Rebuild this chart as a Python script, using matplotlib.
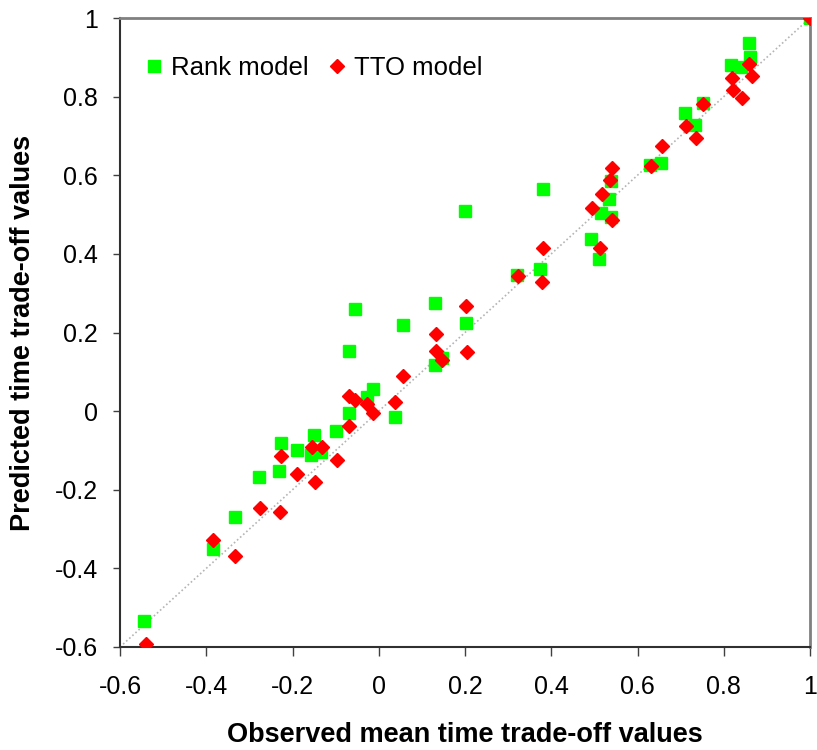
import numpy as np
import matplotlib
matplotlib.use('Agg')
import matplotlib.pyplot as plt

# observed vs predicted, rank model (green squares)
rank_obs = [1.0, 0.858, 0.862, 0.816, 0.839, 0.751, 0.709, 0.733, 0.654, 0.630,
            0.538, 0.533, 0.515, 0.538, 0.492, 0.510, 0.380, 0.375, 0.320, 0.199,
            0.202, 0.130, 0.130, 0.146, 0.056, -0.056, -0.070, -0.014, -0.028, -0.070,
            0.037, -0.098, -0.149, -0.227, -0.190, -0.158, -0.133, -0.232, -0.278, -0.334,
            -0.385, -0.544]
rank_pred = [1.0, 0.936, 0.902, 0.880, 0.876, 0.784, 0.758, 0.729, 0.630, 0.626,
             0.586, 0.539, 0.503, 0.494, 0.438, 0.388, 0.565, 0.361, 0.346, 0.509,
             0.224, 0.275, 0.117, 0.136, 0.219, 0.260, 0.153, 0.057, 0.037, -0.005,
             -0.016, -0.051, -0.061, -0.080, -0.099, -0.112, -0.103, -0.152, -0.168, -0.269,
             -0.351, -0.534]

# TTO model (red diamonds)
tto_obs = [1.0, 0.859, 0.865, 0.818, 0.822, 0.842, 0.753, 0.712, 0.735, 0.656,
           0.632, 0.541, 0.536, 0.517, 0.494, 0.541, 0.382, 0.513, 0.322, 0.378,
           0.202, 0.132, 0.204, 0.132, 0.146, 0.057, -0.068, -0.054, -0.027, -0.013,
           0.038, -0.068, -0.155, -0.132, -0.226, -0.096, -0.189, -0.147, -0.275, -0.229,
           -0.384, -0.333, -0.540]
tto_pred = [1.0, 0.884, 0.852, 0.848, 0.816, 0.796, 0.782, 0.725, 0.694, 0.674,
            0.623, 0.618, 0.587, 0.552, 0.516, 0.486, 0.415, 0.416, 0.344, 0.328,
            0.267, 0.195, 0.151, 0.153, 0.130, 0.090, 0.038, 0.028, 0.018, -0.004,
            0.023, -0.038, -0.092, -0.092, -0.114, -0.125, -0.160, -0.180, -0.246, -0.257,
            -0.328, -0.369, -0.592]

ticks = [-0.6, -0.4, -0.2, 0, 0.2, 0.4, 0.6, 0.8, 1]
tick_labels = ['-0.6', '-0.4', '-0.2', '0', '0.2', '0.4', '0.6', '0.8', '1']

plt.rcParams['font.family'] = ['Liberation Sans', 'DejaVu Sans']

fig = plt.figure(figsize=(8.17, 7.5), dpi=100)
ax = fig.add_axes([120 / 817, 1 - 647 / 750, 690 / 817, 629 / 750])

ax.plot([-0.6, 1], [-0.6, 1], color='#b4b4b4', linestyle=(0, (1, 1.5)),
        linewidth=1.2, zorder=1)
ax.plot(rank_obs, rank_pred, linestyle='none', marker='s', markersize=8.6,
        color='#00ff00', label='Rank model', zorder=2)
ax.plot(tto_obs, tto_pred, linestyle='none', marker='D', markersize=7.0,
        color='#ff0000', label='TTO model', zorder=3)

ax.set_xlim(-0.6, 1)
ax.set_ylim(-0.6, 1)
ax.set_xticks(ticks)
ax.set_xticklabels(tick_labels)
ax.set_yticks(ticks)
ax.set_yticklabels(tick_labels)
ax.tick_params(axis='x', direction='out', length=6.5, width=1, color='#404040',
               labelsize=18, pad=14)
ax.tick_params(axis='y', direction='out', length=5, width=1, color='#404040',
               labelsize=18, pad=11)

for side in ['left', 'bottom']:
    ax.spines[side].set_color('#303030')
    ax.spines[side].set_linewidth(1.5)
for side in ['top', 'right']:
    ax.spines[side].set_color('#808080')
    ax.spines[side].set_linewidth(2)

ax.set_xlabel('Observed mean time trade-off values', fontsize=19.5,
              fontweight='bold', labelpad=16)
ax.set_ylabel('Predicted time trade-off values', fontsize=19.5,
              fontweight='bold', labelpad=13)

ax.legend(loc='upper left', ncol=2, frameon=False, fontsize=18.5,
          handlelength=0.8, handletextpad=0.25, columnspacing=0.7,
          borderaxespad=0, borderpad=0, bbox_to_anchor=(0.035, 0.94))

plt.savefig('out.png', dpi=100)
